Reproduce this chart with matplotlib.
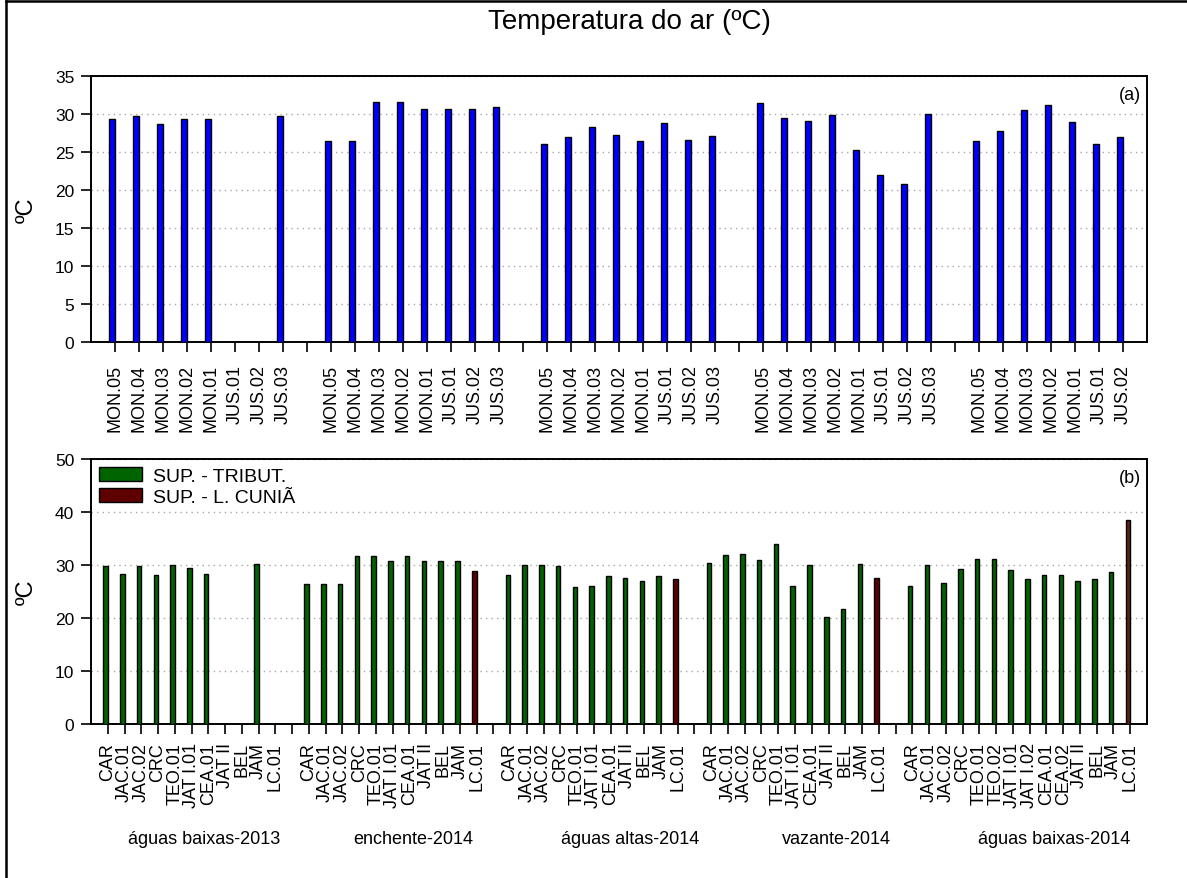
import numpy as np
import matplotlib
matplotlib.use("Agg")
import matplotlib.pyplot as plt
from matplotlib.patches import Patch
from matplotlib.lines import Line2D

plt.rcParams['font.family'] = ['Liberation Sans', 'DejaVu Sans']

nan = np.nan

# Campaigns (hydrological periods)
campanhas = ["águas baixas-2013", "enchente-2014", "águas altas-2014",
             "vazante-2014", "águas baixas-2014"]

# (a) air temperature at the river points, per campaign
pontos_rio = ["MON.05", "MON.04", "MON.03", "MON.02", "MON.01",
              "JUS.01", "JUS.02", "JUS.03"]
pontos_rio_b14 = ["MON.05", "MON.04", "MON.03", "MON.02", "MON.01",
                  "JUS.01", "JUS.02"]
ar_baixas13 = [29.3, 29.7, 28.7, 29.3, 29.3, nan, nan, 29.7]
ar_enchente14 = [26.4, 26.4, 31.6, 31.6, 30.6, 30.6, 30.6, 30.9]
ar_altas14 = [26.0, 27.0, 28.3, 27.2, 26.5, 28.8, 26.6, 27.1]
ar_vazante14 = [31.4, 29.5, 29.1, 29.8, 25.2, 22.0, 20.8, 30.0]
ar_baixas14 = [26.5, 27.7, 30.5, 31.2, 29.0, 26.0, 27.0]

# (b) air temperature at the tributaries and Lago Cuniã
estacoes = ["CAR", "JAC.01", "JAC.02", "CRC", "TEO.01", "JAT I.01",
            "CEA.01", "JAT II", "BEL", "JAM", "LC.01"]
estacoes_b14 = ["CAR", "JAC.01", "JAC.02", "CRC", "TEO.01", "TEO.02",
                "JAT I.01", "JAT I.02", "CEA.01", "CEA.02", "JAT II",
                "BEL", "JAM", "LC.01"]
trib_baixas13 = [29.7, 28.3, 29.8, 28.1, 30.0, 29.4, 28.3, nan, nan, 30.2, nan]
trib_enchente14 = [26.4, 26.4, 26.4, 31.6, 31.6, 30.7, 31.6, 30.7, 30.7, 30.7, 28.8]
trib_altas14 = [28.0, 30.0, 30.0, 29.8, 25.9, 26.1, 27.9, 27.6, 26.9, 27.9, 27.4]
trib_vazante14 = [30.3, 31.9, 32.0, 30.9, 34.0, 26.0, 30.0, 20.1, 21.6, 30.2, 27.5]
trib_baixas14 = [26.0, 30.0, 26.5, 29.2, 31.1, 31.1, 29.0, 27.3, 28.1, 28.1,
                 26.9, 27.4, 28.7, 38.5]

lago = "LC.01"

cor_rio = "#0000FF"
cor_trib = "#006400"
cor_lago = "#5E0000"
cor_lago_b14 = "#5C2410"

# horizontal centre (in pixels) of each campaign caption
x_legendas_px = [204, 413, 630, 836, 1054]


def montar(grupos):
    """Lay groups out one after another with an empty slot between them."""
    pos, rot, val = [], [], []
    p = 1
    for k, (nomes, valores) in enumerate(grupos):
        for n, v in zip(nomes, valores):
            pos.append(p)
            rot.append(n)
            val.append(v)
            p += 1
        if k < len(grupos) - 1:
            pos.append(p)
            rot.append("")
            val.append(nan)
            p += 1
    return np.array(pos, float), rot, np.array(val, float), p


W, H = 1187, 879
fig = plt.figure(figsize=(W / 100, H / 100), dpi=100)

# outer frame of the figure (left and top edges)
fig.add_artist(Line2D([5.5 / W, 5.5 / W], [0, 1 - 1.5 / H], transform=fig.transFigure,
                      color="black", lw=1.8))
fig.add_artist(Line2D([5.5 / W, 1], [1 - 1.5 / H, 1 - 1.5 / H], transform=fig.transFigure,
                      color="black", lw=1.8))

ax1 = fig.add_axes([91 / W, 1 - 342.7 / H, 1056 / W, 265.7 / H])
ax2 = fig.add_axes([91 / W, 1 - 724.7 / H, 1056 / W, 264.7 / H])

largura = 0.27

# ---- panel (a)
pos_a, rot_a, val_a, fim_a = montar([
    (pontos_rio, ar_baixas13), (pontos_rio, ar_enchente14),
    (pontos_rio, ar_altas14), (pontos_rio, ar_vazante14),
    (pontos_rio_b14, ar_baixas14)])
ok = ~np.isnan(val_a)
ax1.bar(pos_a[ok] - largura / 2, val_a[ok], width=largura, color=cor_rio,
        edgecolor="black", linewidth=1.0, zorder=3)
ax1.set_xlim(0, fim_a)
ax1.set_ylim(0, 35)
ax1.set_yticks(np.arange(0, 36, 5))
ax1.set_xticks(pos_a)
ax1.set_xticklabels(rot_a, rotation=90, fontsize=13)
ax1.tick_params(axis="x", direction="out", length=7, width=1.2, pad=9)
ax1.tick_params(axis="y", direction="out", length=7, width=1.2, pad=5, labelsize=12.5)
ax1.yaxis.grid(True, linestyle=(0, (1, 3)), color="#a8a8a8", linewidth=1.0)
ax1.set_axisbelow(True)
ax1.set_ylabel("ºC", fontsize=17)
ax1.yaxis.set_label_coords(-0.05, 0.5)
ax1.text(0.994, 0.962, "(a)", transform=ax1.transAxes, ha="right", va="top",
         fontsize=13)

# ---- panel (b)
pos_b, rot_b, val_b, fim_b = montar([
    (estacoes, trib_baixas13), (estacoes, trib_enchente14),
    (estacoes, trib_altas14), (estacoes, trib_vazante14),
    (estacoes_b14, trib_baixas14)])
cores_b = []
for i, n in enumerate(rot_b):
    if n == lago:
        cores_b.append(cor_lago_b14 if i == len(rot_b) - 1 else cor_lago)
    else:
        cores_b.append(cor_trib)
cores_b = np.array(cores_b)
ok = ~np.isnan(val_b)
ax2.bar(pos_b[ok] - largura / 2, val_b[ok], width=largura, color=cores_b[ok],
        edgecolor="black", linewidth=1.0, zorder=3)
ax2.set_xlim(0, fim_b)
ax2.set_ylim(0, 50)
ax2.set_yticks(np.arange(0, 51, 10))
ax2.set_xticks(pos_b)
ax2.set_xticklabels(rot_b, rotation=90, fontsize=13)
ax2.tick_params(axis="x", direction="out", length=7, width=1.2, pad=6)
ax2.tick_params(axis="y", direction="out", length=7, width=1.2, pad=5, labelsize=12.5)
ax2.yaxis.grid(True, linestyle=(0, (1, 3)), color="#a8a8a8", linewidth=1.0)
ax2.set_axisbelow(True)
ax2.set_ylabel("ºC", fontsize=17)
ax2.yaxis.set_label_coords(-0.05, 0.5)
ax2.text(0.994, 0.962, "(b)", transform=ax2.transAxes, ha="right", va="top",
         fontsize=13)

ax2.legend(handles=[Patch(facecolor=cor_trib, edgecolor="black", label="SUP. - TRIBUT."),
                    Patch(facecolor=cor_lago, edgecolor="black", label="SUP. - L. CUNIÃ")],
           loc="upper left", bbox_to_anchor=(0.004, 0.985), frameon=False,
           fontsize=14, handlelength=2.2, handleheight=0.72,
           handletextpad=0.55, labelspacing=0.2, borderaxespad=0, borderpad=0.2)

# campaign captions under panel (b)
for xp, nome in zip(x_legendas_px, campanhas):
    fig.text(xp / W, 1 - 840 / H, nome, ha="center", va="center", fontsize=13)

for ax in (ax1, ax2):
    for s in ax.spines.values():
        s.set_linewidth(1.4)

fig.text(629 / W, 1 - 22 / H, "Temperatura do ar (ºC)", ha="center", va="center",
         fontsize=20)

fig.savefig("out.png", dpi=100, facecolor="white")
